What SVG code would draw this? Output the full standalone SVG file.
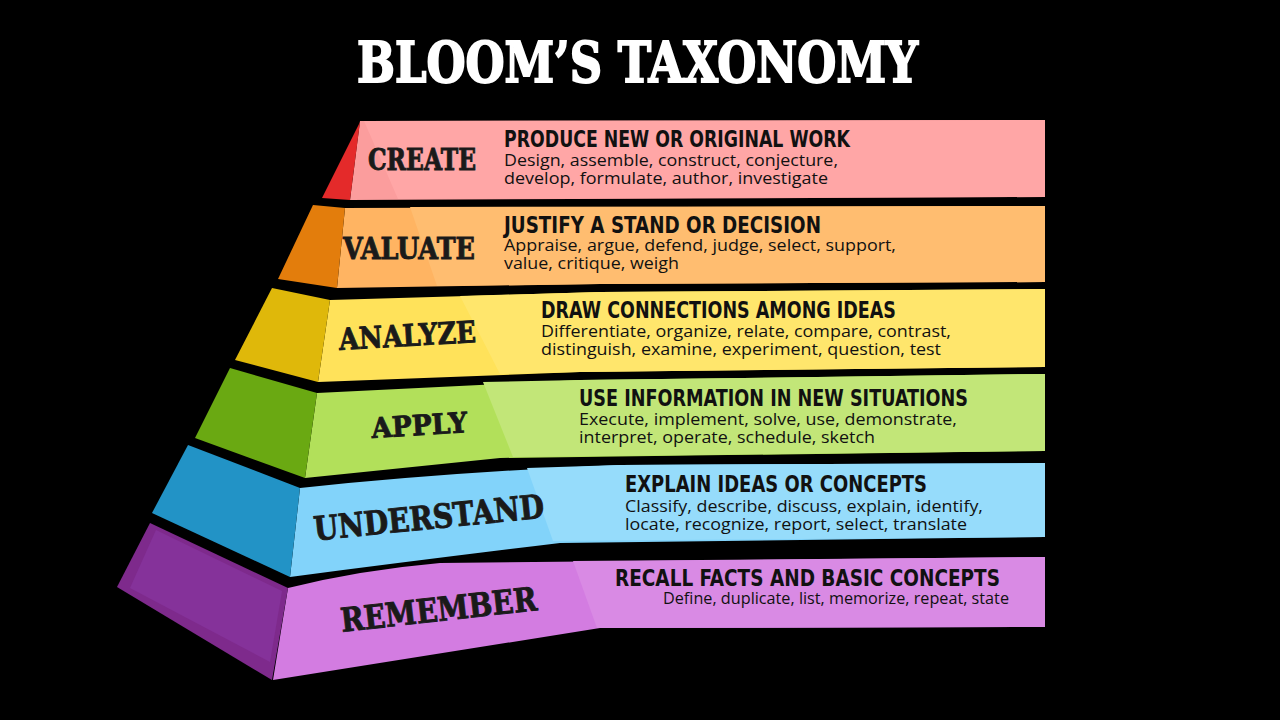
<svg xmlns="http://www.w3.org/2000/svg" width="1280" height="720" viewBox="0 0 1280 720">
<style>
.title{font-family:"DejaVu Serif","Liberation Serif",serif;font-weight:bold;font-size:56px;fill:#fff;stroke:#fff;stroke-width:2}
.lvl{font-family:"DejaVu Serif","Liberation Serif",serif;font-weight:bold;fill:#1a1a1a;stroke:#1a1a1a;stroke-width:0.9;text-anchor:middle}
.hd{font-family:"Liberation Sans Narrow","DejaVu Sans Condensed","Liberation Sans",sans-serif;font-weight:bold;font-size:23px;fill:#111}
.bd{font-family:"Open Sans","Noto Sans",sans-serif;font-size:15.5px;fill:#111}
</style>
<rect width="1280" height="720" fill="#000"/>
<text class="title" x="357" y="82" textLength="561" lengthAdjust="spacingAndGlyphs">BLOOM’S TAXONOMY</text>

<g id="create">
<polygon points="360,121 1045,120 1045,197 350,200" fill="#fb9d9d"/>
<polygon points="364,121 1045,120 1045,197 398,199" fill="#ffa6a6"/>
<polygon points="360,122 322,198 350,200" fill="#e42a2a"/>
<text class="lvl" x="422" y="170" font-size="29" textLength="108" lengthAdjust="spacingAndGlyphs">CREATE</text>
<text class="hd" x="504" y="147" textLength="346" lengthAdjust="spacingAndGlyphs">PRODUCE NEW OR ORIGINAL WORK</text>
<text class="bd" x="504" y="166" textLength="334" lengthAdjust="spacingAndGlyphs">Design, assemble, construct, conjecture,</text>
<text class="bd" x="504" y="184" textLength="324" lengthAdjust="spacingAndGlyphs">develop, formulate, author, investigate</text>
</g>

<g id="valuate">
<polygon points="345,208 1045,206 1045,282 600,284 337,288" fill="#ffb462"/>
<polygon points="410,207 1045,206 1045,282 600,284 437,286" fill="#ffbd70"/>
<polygon points="313,205 345,208 337,288 278,279" fill="#e37d0c"/>
<text class="lvl" x="409" y="259" font-size="29" textLength="132" lengthAdjust="spacingAndGlyphs">VALUATE</text>
<text class="hd" x="504" y="233" textLength="317" lengthAdjust="spacingAndGlyphs">JUSTIFY A STAND OR DECISION</text>
<text class="bd" x="504" y="251" textLength="392" lengthAdjust="spacingAndGlyphs">Appraise, argue, defend, judge, select, support,</text>
<text class="bd" x="504" y="269" textLength="175" lengthAdjust="spacingAndGlyphs">value, critique, weigh</text>
</g>

<g id="analyze">
<polygon points="330,300 600,292 1045,289 1045,367 580,372 318,382" fill="#ffe25a"/>
<polygon points="460,296 600,292 1045,289 1045,367 580,372 500,374" fill="#ffe66c"/>
<polygon points="272,288 330,300 318,382 235,360" fill="#dfb80a"/>
<text class="lvl" x="408" y="346" font-size="30" textLength="137" lengthAdjust="spacingAndGlyphs" transform="rotate(-3.3 408 346)">ANALYZE</text>
<text class="hd" x="541" y="318" textLength="355" lengthAdjust="spacingAndGlyphs">DRAW CONNECTIONS AMONG IDEAS</text>
<text class="bd" x="541" y="337" textLength="410" lengthAdjust="spacingAndGlyphs">Differentiate, organize, relate, compare, contrast,</text>
<text class="bd" x="541" y="355" textLength="400" lengthAdjust="spacingAndGlyphs">distinguish, examine, experiment, question, test</text>
</g>

<g id="apply">
<polygon points="317,393 580,380 1045,374 1045,451 500,458 305,478" fill="#b2e05a"/>
<polygon points="483,382 580,380 1045,374 1045,451 513,457" fill="#c2e678"/>
<polygon points="230,368 317,393 305,478 195,438" fill="#6aa912"/>
<text class="lvl" x="420" y="435" font-size="28" textLength="96" lengthAdjust="spacingAndGlyphs" transform="rotate(-3.6 420 435)">APPLY</text>
<text class="hd" x="579" y="406" textLength="389" lengthAdjust="spacingAndGlyphs">USE INFORMATION IN NEW SITUATIONS</text>
<text class="bd" x="579" y="425" textLength="378" lengthAdjust="spacingAndGlyphs">Execute, implement, solve, use, demonstrate,</text>
<text class="bd" x="579" y="443" textLength="296" lengthAdjust="spacingAndGlyphs">interpret, operate, schedule, sketch</text>
</g>

<g id="understand">
<path d="M300,488 Q450,472 620,465 L1045,463 L1045,537 L560,543 Q420,560 290,577 Z" fill="#82d3fa"/>
<polygon points="527,468 620,465 1045,463 1045,537 553,541" fill="#96dcfb"/>
<polygon points="188,445 300,488 290,577 152,513" fill="#2293c6"/>
<text class="lvl" x="430" y="529" font-size="33" textLength="231" lengthAdjust="spacingAndGlyphs" transform="rotate(-5.7 430 529)">UNDERSTAND</text>
<text class="hd" x="625" y="492" textLength="302" lengthAdjust="spacingAndGlyphs">EXPLAIN IDEAS OR CONCEPTS</text>
<text class="bd" x="625" y="512" textLength="358" lengthAdjust="spacingAndGlyphs">Classify, describe, discuss, explain, identify,</text>
<text class="bd" x="625" y="530" textLength="342" lengthAdjust="spacingAndGlyphs">locate, recognize, report, select, translate</text>
</g>

<g id="remember">
<path d="M288,588 Q360,570 440,563 L1045,557 L1045,627 L600,628 L273,680 Z" fill="#d37ce1"/>
<polygon points="573,561 1045,557 1045,627 600,628 597,628" fill="#d98ae4"/>
<polygon points="150,523 288,588 272,680 117,587" fill="#7e2a8c"/>
<polygon points="156,530 282,591 270,662 130,588" fill="#85329a"/>
<text class="lvl" x="440" y="621" font-size="33" textLength="197" lengthAdjust="spacingAndGlyphs" transform="rotate(-6.4 440 621)">REMEMBER</text>
<text class="hd" x="615" y="586" textLength="385" lengthAdjust="spacingAndGlyphs">RECALL FACTS AND BASIC CONCEPTS</text>
<text class="bd" x="663" y="604" textLength="346" lengthAdjust="spacingAndGlyphs">Define, duplicate, list, memorize, repeat, state</text>
</g>
</svg>
